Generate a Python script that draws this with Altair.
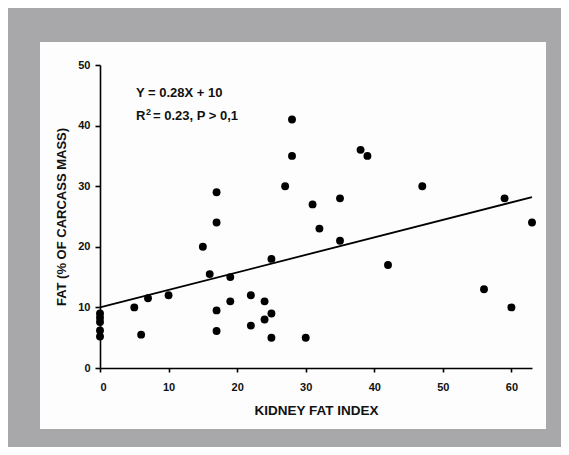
import altair as alt
import pandas as pd

# Kidney fat index (x) vs fat % of carcass mass (y)
kfi = [0, 0, 0, 0, 0, 5, 6, 7, 10, 15, 16, 17, 17, 17, 17, 19, 19, 22, 22, 24,
       24, 25, 25, 25, 27, 28, 28, 30, 31, 32, 35, 35, 38, 39, 42, 47, 56, 59, 60, 63]
fat = [9.0, 8.3, 7.6, 6.2, 5.2, 10, 5.5, 11.5, 12, 20, 15.5, 29, 24, 9.5, 6.1, 15, 11, 12, 7, 11,
       8, 9, 5, 18, 30, 41, 35, 5, 27, 23, 28, 21, 36, 35, 17, 30, 13, 28, 10, 24]

# regression line endpoints as drawn
line_x = [0, 63]
line_y = [10, 28.2]

x_ticks = [0, 10, 20, 30, 40, 50, 60]
y_ticks = [0, 10, 20, 30, 40, 50]

pts = pd.DataFrame({"kfi": kfi, "fat": fat})
reg = pd.DataFrame({"kfi": line_x, "fat": line_y})
one = pd.DataFrame({"a": [0]})

FONT = "Liberation Sans"
INK = "#111111"

xscale = alt.Scale(domain=[0, 63], nice=False, zero=False)
yscale = alt.Scale(domain=[0, 50], nice=False)

xaxis = alt.Axis(values=x_ticks, title="KIDNEY FAT INDEX", grid=False, zindex=1,
                 tickSize=4, labelPadding=9, labelFontSize=11, labelFontWeight="bold",
                 titleFontSize=13.5, titleFontWeight="bold", titlePadding=11,
                 domainColor="black", tickColor="black", domainWidth=1.6, tickWidth=1.6,
                 labelColor=INK, titleColor=INK, labelFont=FONT, titleFont=FONT)
yaxis = alt.Axis(values=y_ticks, title="FAT (% OF CARCASS MASS)", grid=False, zindex=1,
                 tickSize=5, labelPadding=5, labelFontSize=11, labelFontWeight="bold",
                 titleFontSize=13, titleFontWeight="bold", titlePadding=9,
                 domainColor="black", tickColor="black", domainWidth=1.6, tickWidth=1.6,
                 labelColor=INK, titleColor=INK, labelFont=FONT, titleFont=FONT)

panel = alt.Chart(one).mark_rect(color="#fdfdfd").encode(
    x=alt.value(-60), x2=alt.value(446), y=alt.value(-23), y2=alt.value(364))

line = alt.Chart(reg).mark_line(color="black", strokeWidth=1.8).encode(
    x=alt.X("kfi:Q", scale=xscale, axis=xaxis),
    y=alt.Y("fat:Q", scale=yscale, axis=yaxis))

points = alt.Chart(pts).mark_circle(color="black", opacity=1, size=62).encode(
    x=alt.X("kfi:Q", scale=xscale, axis=xaxis),
    y=alt.Y("fat:Q", scale=yscale, axis=yaxis))

txt1 = alt.Chart(one).mark_text(text="Y = 0.28X + 10", align="left", baseline="alphabetic",
                                font=FONT, fontSize=13, fontWeight="bold", color=INK).encode(
    x=alt.value(36), y=alt.value(32))
txtR = alt.Chart(one).mark_text(text="R", align="left", baseline="alphabetic",
                                font=FONT, fontSize=13, fontWeight="bold", color=INK).encode(
    x=alt.value(36), y=alt.value(55))
txt2 = alt.Chart(one).mark_text(text="2", align="left", baseline="alphabetic",
                                font=FONT, fontSize=9, fontWeight="bold", color=INK).encode(
    x=alt.value(46), y=alt.value(50))
txt3 = alt.Chart(one).mark_text(text="= 0.23, P > 0,1", align="left", baseline="alphabetic",
                                font=FONT, fontSize=13, fontWeight="bold", color=INK).encode(
    x=alt.value(53), y=alt.value(55))

chart = alt.layer(panel, line, points, txt1, txtR, txt2, txt3).properties(
    width=432, height=303,
    autosize=alt.AutoSizeParams(type="none"),
    padding={"left": 92, "top": 57, "right": 29, "bottom": 79},
    background="#a8a8aa",
).configure_view(stroke=None)

chart.save("out.html", embed_options={"renderer": "svg", "actions": False})
